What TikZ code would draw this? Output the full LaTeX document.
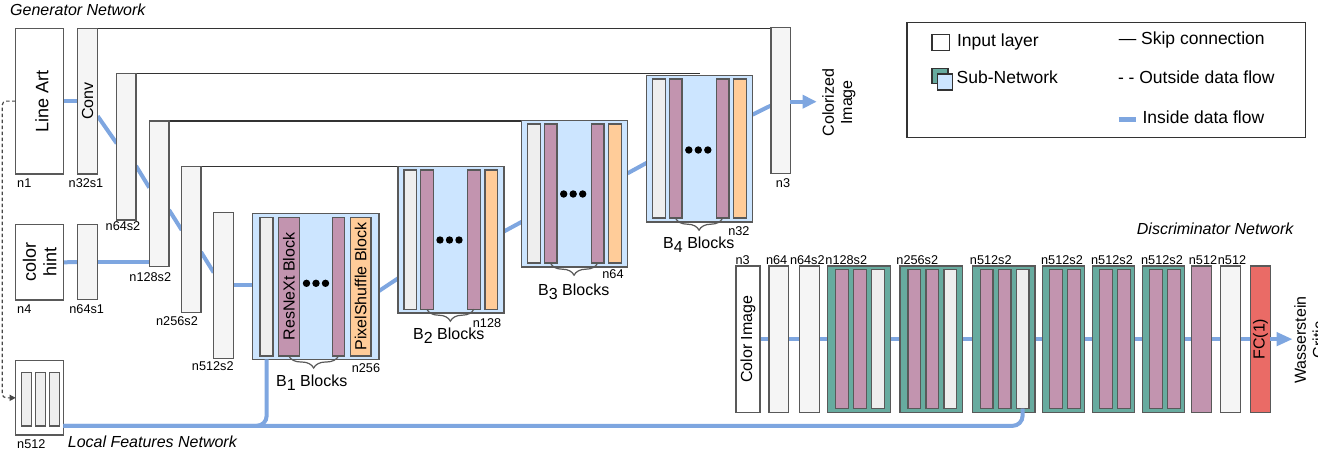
\documentclass[tikz,border=0pt]{standalone}
\usepackage{fontspec}
\setmainfont{Liberation Sans}
\usetikzlibrary{arrows.meta,decorations.pathreplacing,calc}
\pgfdeclarelayer{bg}
\pgfsetlayers{bg,main}
\definecolor{strk}{HTML}{595959}
\definecolor{gfill}{HTML}{F5F5F5}
\definecolor{ifill}{HTML}{EEEEEE}
\definecolor{purp}{HTML}{C294AF}
\definecolor{orng}{HTML}{FFCC99}
\definecolor{lblue}{HTML}{CCE5FF}
\definecolor{grn}{HTML}{67AB9F}
\definecolor{redc}{HTML}{EA6B66}
\definecolor{flowc}{HTML}{7EA6E0}
\definecolor{skipc}{HTML}{333333}
\newcommand\bx[7]{\node[#2, anchor=north west, minimum width={(#5)-(#3)}, minimum height={(#6)-(#4)}] (#1) at (#3,#4) {#7};}
\newcommand\rt[1]{\rotatebox{90}{#1}}
\newcommand\blk[3]{%
\bx{#1}{blkbox}{#2}{#3}{#2+105.8}{#3+146.3}{}
\bx{#1g}{ibox}{#2+5.8}{#3+3.5}{#2+18.5}{#3+142.5}{}
\bx{#1p}{pbox}{#2+22.5}{#3+3.5}{#2+35.2}{#3+142.5}{}
\bx{#1q}{pbox}{#2+69.5}{#3+3.5}{#2+82.2}{#3+142.5}{}
\bx{#1o}{obox}{#2+86.8}{#3+3.5}{#2+99.5}{#3+142.5}{}}
\newcommand\grpA[2]{%
\bx{#1}{grbox}{#2}{266}{#2+62.7}{412.3}{}
\bx{#1a}{pbox}{#2+8}{269.3}{#2+20.6}{408.5}{}
\bx{#1b}{pbox}{#2+26}{269.3}{#2+38.6}{408.5}{}
\bx{#1g}{ibox}{#2+44}{269.3}{#2+56.6}{408.5}{}}
\newcommand\grpB[2]{%
\bx{#1}{grbox}{#2}{266}{#2+41.6}{412.3}{}
\bx{#1a}{pbox}{#2+6.5}{269.3}{#2+19.5}{408.5}{}
\bx{#1b}{pbox}{#2+24.5}{269.3}{#2+37.5}{408.5}{}}
\begin{document}
\begin{tikzpicture}[x=1pt,y=-1pt, font=\fontsize{16}{18.4}\selectfont,
  lay/.style={draw=strk, line width=1.4pt, inner sep=0pt, outer sep=0pt},
  gbox/.style={lay, fill=gfill},
  wbox/.style={lay, fill=white},
  ibox/.style={lay, fill=ifill},
  pbox/.style={lay, fill=purp},
  obox/.style={lay, fill=orng},
  blkbox/.style={lay, fill=lblue},
  grbox/.style={lay, fill=grn},
  rbox/.style={lay, fill=redc},
  legbox/.style={draw=skipc, line width=1.4pt, inner sep=0pt, outer sep=0pt},
  legsq/.style={draw=skipc, line width=1.3pt, inner sep=0pt, outer sep=0pt},
  lbl/.style={font=\fontsize{12.7}{14}\selectfont, inner sep=0pt, anchor=base},
  blab/.style={inner sep=0pt, anchor=base},
  ttl/.style={font=\fontsize{16}{18}\selectfont\itshape, inner sep=0pt, anchor=base west},
  lgt/.style={font=\fontsize{17.5}{20}\selectfont, inner sep=0pt, anchor=base west},
  flow/.style={draw=flowc, line width=4pt},
  skipl/.style={draw=skipc, line width=1.3pt},
  brc/.style={draw=strk, line width=1.2pt, decorate, decoration={brace, mirror, amplitude=12pt}},
  dsh/.style={draw=skipc!90, line width=1.2pt, dash pattern=on 3.5pt off 2.5pt, rounded corners=4pt}
]
\useasboundingbox (0,0) rectangle (1318,457);
\clip (0,0) rectangle (1318,457);

% ---------- Generator ----------
\node[ttl] (tgen) at (10,15.7) {Generator Network};
\bx{LA}{wbox}{15.7}{28.3}{63.3}{174}{\rt{\fontsize{18}{20.7}\selectfont\raisebox{-2.5pt}[\height][\depth]{Line Art}}}
\bx{conv}{gbox}{77.3}{28.3}{97.7}{174}{\rt{Conv}}
\bx{e64}{gbox}{116.7}{73.8}{136}{220}{}
\bx{e128}{gbox}{149.3}{121}{169}{266.7}{}
\bx{e256}{gbox}{181.7}{166.7}{201}{312.7}{}
\bx{e512}{gbox}{213.7}{212.7}{233.3}{358.3}{}
\bx{CH}{wbox}{15.7}{224.7}{63.3}{300}{\rt{\fontsize{18}{20.7}\selectfont\raisebox{-2.5pt}[\height][\depth]{\begin{tabular}{@{}c@{}}color\\hint\end{tabular}}}}
\bx{h64}{gbox}{77.3}{224.7}{97.3}{299.3}{}
\bx{LF}{wbox}{15.7}{360.7}{63.3}{435}{}
\bx{lf1}{ibox}{21.7}{372.7}{31.7}{426}{}
\bx{lf2}{ibox}{35.7}{372.7}{45.7}{426}{}
\bx{lf3}{ibox}{49.3}{372.7}{59.3}{426}{}
\bx{n3}{gbox}{771}{27.3}{790.3}{173.3}{}

% B1 block
\bx{B1}{blkbox}{252.3}{213.3}{379}{359.3}{}
\bx{B1g}{ibox}{260}{217.3}{273}{356}{}
\bx{B1p}{pbox}{278.3}{217.3}{299.3}{356}{\rt{ResNeXt Block}}
\bx{B1q}{pbox}{332.3}{217.3}{344.7}{356}{}
\bx{B1o}{obox}{350.3}{217.3}{371}{356}{\rt{PixelShuffle Block}}
\blk{B2}{398}{166.7}
\blk{B3}{521.7}{120.7}
\blk{B4}{646.7}{75.7}

\foreach \dx in {-9.5,0,9.5} {
  \fill (316+\dx,283.3) circle (3.7pt);
  \fill (449.5+\dx,240) circle (3.7pt);
  \fill (573.2+\dx,194) circle (3.7pt);
  \fill (698.3+\dx,150) circle (3.7pt);
}
\draw[brc] (B1p.south) -- (B1q.south);
\draw[brc] (B2p.south) -- (B2q.south);
\draw[brc] (B3p.south) -- (B3q.south);
\draw[brc] (B4p.south) -- (B4q.south);

% labels
\node[lbl, anchor=base west] at (17,187.6) {n1};
\node[lbl] at (86,187.6) {n32s1};
\node[lbl] at (123,230.3) {n64s2};
\node[lbl] at (150.3,281.3) {n128s2};
\node[lbl] at (177,325.3) {n256s2};
\node[lbl] at (212.8,370.6) {n512s2};
\node[lbl, anchor=base west] at (17,313) {n4};
\node[lbl] at (86.7,313) {n64s1};
\node[lbl, anchor=base west] at (17,448) {n512};
\node[lbl] at (366,372) {n256};
\node[lbl] at (487,327) {n128};
\node[lbl] at (613,279) {n64};
\node[lbl] at (738.9,235.3) {n32};
\node[lbl] at (783,188) {n3};
\node[blab] at (311.7,386.5) {B\raisebox{-4pt}{1} Blocks};
\node[blab] at (448.8,339) {B\raisebox{-4pt}{2} Blocks};
\node[blab] at (573.7,295.5) {B\raisebox{-4pt}{3} Blocks};
\node[blab] at (698.8,248.3) {B\raisebox{-4pt}{4} Blocks};
\node[ttl] (tlf) at (67.7,447.7) {Local Features Network};
\node[rotate=90, align=center, inner sep=0pt, font=\fontsize{16}{18.2}\selectfont] (colo) at (838.9,102.5) {Colorized\\Image};

\coordinate (outG) at (816.7,101.7);

\begin{pgfonlayer}{bg}
\draw[skipl] (conv.north) -- (conv.north -| n3.north);
\draw[skipl] (e64.north) -- (e64.north -| B4.north);
\draw[skipl] (e128.north) -- (e128.north -| B3.north);
\draw[skipl] (e256.north) -- (e256.north -| B2.north);
\draw[flow] (LA.east) -- (conv.west);
\draw[flow] ([yshift=-15pt]conv.east) -- ([yshift=3.5pt]e64.west);
\draw[flow] ([yshift=-19pt]e64.east) -- ([yshift=6.2pt]e128.west);
\draw[flow] ([yshift=-16pt]e128.east) -- ([yshift=9.7pt]e256.west);
\draw[flow] ([yshift=-12.3pt]e256.east) -- ([yshift=13pt]e512.west);
\draw[flow] (e512.east) -- (e512.east -| B1.west);
\draw[flow] (CH.east) -- (h64.west);
\draw[flow] (h64.east) -- (h64.east -| e128.west);
\draw[flow] ([yshift=-4.7pt]B1.east) -- ([yshift=-38.5pt]B2.west);
\draw[flow] ([yshift=8.3pt]B2.east) -- ([yshift=-28pt]B3.west);
\draw[flow] ([yshift=20.5pt]B3.east) -- ([yshift=-14pt]B4.west);
\draw[flow] ([yshift=34.2pt]B4.east) -- ([yshift=-5.2pt]n3.west);
\end{pgfonlayer}
\draw[flow, -{Triangle[length=14pt,width=13pt]}] ([yshift=-1.4pt]n3.east) -- (outG);
\draw[dsh, -{Triangle[length=6pt,width=6pt]}] (LA.west) -- ++(-13.5,0) |- (LF.west);

% ---------- Discriminator ----------
\node[ttl] (tdis) at (1136.7,235) {Discriminator Network};
\bx{CI}{wbox}{736}{266}{760}{412.3}{\rt{Color Image}}
\bx{d64}{gbox}{769}{266}{788.7}{412.3}{}
\bx{d64s}{gbox}{799.3}{266}{819.3}{412.3}{}
\grpA{G1}{827.7}
\grpA{G2}{900}
\grpA{G3}{972.3}
\grpB{G4}{1042.7}
\grpB{G5}{1092.7}
\grpB{G6}{1142.7}
\bx{dP}{pbox}{1191.7}{266}{1211.3}{412.3}{}
\bx{dG}{gbox}{1220.7}{266}{1240.7}{412.3}{}
\bx{FC}{rbox}{1250.7}{266}{1270.3}{412.3}{\rt{FC(1)}}
\coordinate (outD) at (1292.7,339.15);
\begin{pgfonlayer}{bg}
\draw[flow] (CI.east) -- (FC.west);
\end{pgfonlayer}
\draw[flow, -{Triangle[length=16pt,width=13pt]}] (FC.east) -- (outD);
\node[rotate=90, align=center, inner sep=0pt, font=\fontsize{16}{18.2}\selectfont] (wc) at (1309.3,340) {Wasserstein\\Critic};

\node[lbl] at (742.7,264.6) {n3};
\node[lbl] at (776.7,264.6) {n64};
\node[lbl] at (807.3,264.6) {n64s2};
\node[lbl] at (846.3,264.6) {n128s2};
\node[lbl] at (917.3,264.6) {n256s2};
\node[lbl] at (990.8,264.6) {n512s2};
\node[lbl] at (1062,264.6) {n512s2};
\node[lbl] at (1112,264.6) {n512s2};
\node[lbl] at (1162,264.6) {n512s2};
\node[lbl] at (1203,264.6) {n512};
\node[lbl] at (1232,264.6) {n512};

% local features connections
\draw[flow, rounded corners=10pt] ([yshift=-28pt]LF.east) -| ([xshift=-49pt]B1.south);
\draw[flow, rounded corners=10pt] ([yshift=-28pt]LF.east) -| (G3g.south);

% ---------- Legend ----------
\bx{leg}{legbox}{907}{22.3}{1305.3}{137.8}{}
\bx{lin}{legsq, fill=white}{932}{34.5}{949.5}{50.5}{}
\bx{lsg}{legsq, fill=grn}{932}{68.3}{948}{83.3}{}
\bx{lsb}{legsq, fill=lblue}{937.3}{74}{952.7}{90}{}
\node[lgt] at (956.9,46.7) {Input layer};
\node[lgt] at (956.5,83.3) {Sub-Network};
\node[lgt] at (1118.6,44.3) {— Skip connection};
\node[lgt] at (1117.8,84) {- - Outside data flow};
\draw[flow, line width=4.6pt] (1118.6,119.3) -- (1136,119.3);
\node[lgt] at (1142.4,124) {Inside data flow};
\end{tikzpicture}
\end{document}
